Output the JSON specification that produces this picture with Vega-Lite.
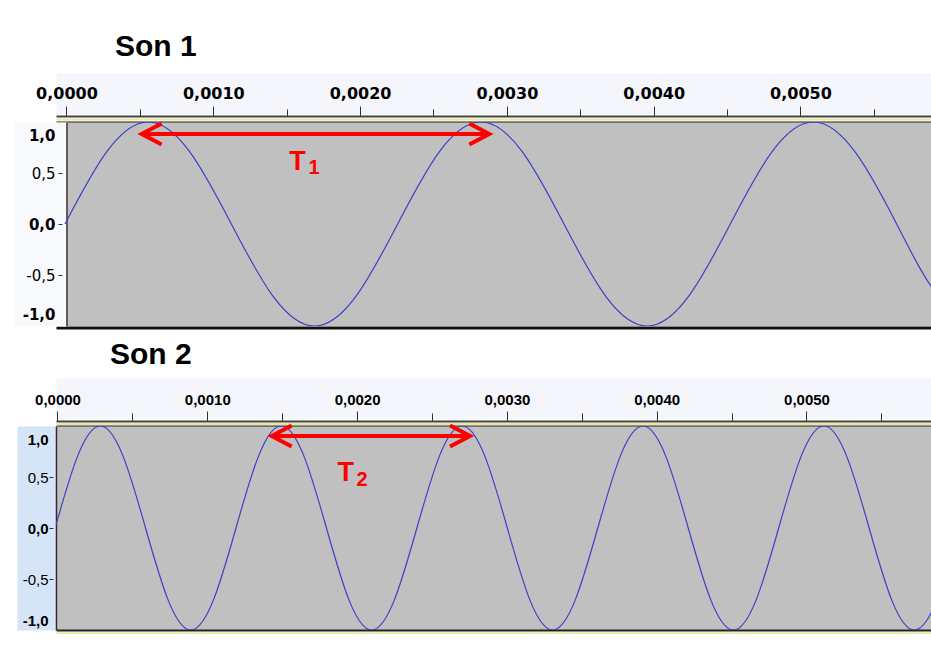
{
  "$schema": "https://vega.github.io/schema/vega-lite/v6.json",
  "background": "white",
  "padding": {"left": 22, "top": 32, "right": 0, "bottom": 0},
  "columns": 1,
  "spacing": 12,
  "resolve": {"scale": {"x": "independent", "y": "independent", "shape": "independent"}},
  "config": {"view": {"fill": "#c0c0c0", "stroke": null}},
  "concat": [
    {
      "width": 875,
      "height": 204,
      "title": {"text": "Son 1", "anchor": "start", "frame": "group", "dx": 59, "offset": -1, "baseline": "alphabetic", "font": "Liberation Sans", "fontSize": 30, "fontWeight": "bold", "color": "#000000"},
      "resolve": {"axis": {"x": "independent", "y": "independent"}},
      "layer": [
        {
          "mark": {"type": "rule", "color": "#000000", "strokeWidth": 1, "clip": true},
          "encoding": {
            "x": {"datum": 0, "type": "quantitative", "scale": {"domain": [-0.0000715, 0.005889], "nice": false, "zero": false},
              "axis": {"orient": "top", "offset": 28.5, "domainColor": "#f4f6fb", "domainWidth": 41, "ticks": false, "labels": false, "title": null, "grid": false}},
            "x2": {"datum": 0.0059},
            "y": {"datum": 0, "type": "quantitative", "scale": {"domain": [-1, 1], "nice": false},
              "axis": {"orient": "left", "offset": 15.5, "domainColor": "#f8f9fd", "domainWidth": 53, "ticks": false, "labels": false, "title": null, "grid": false}}
          }
        },
        {
          "data": {"values": [
            {"t": -0.00001, "v": 0}, {"t": 0.00027325, "v": 0.707}, {"t": 0.0005565, "v": 1}, {"t": 0.00083975, "v": 0.707},
            {"t": 0.001123, "v": 0}, {"t": 0.00140625, "v": -0.707}, {"t": 0.0016895, "v": -1}, {"t": 0.00197275, "v": -0.707},
            {"t": 0.002256, "v": 0}, {"t": 0.00253925, "v": 0.707}, {"t": 0.0028225, "v": 1}, {"t": 0.00310575, "v": 0.707},
            {"t": 0.003389, "v": 0}, {"t": 0.00367225, "v": -0.707}, {"t": 0.0039555, "v": -1}, {"t": 0.00423875, "v": -0.707},
            {"t": 0.004522, "v": 0}, {"t": 0.00480525, "v": 0.707}, {"t": 0.0050885, "v": 1}, {"t": 0.00537175, "v": 0.707},
            {"t": 0.005655, "v": 0}, {"t": 0.00593825, "v": -0.707}, {"t": 0.0062215, "v": -1}
          ]},
          "mark": {"type": "line", "interpolate": "natural", "color": "#3f3fc9", "strokeWidth": 1.2, "clip": true},
          "encoding": {
            "x": {"field": "t", "type": "quantitative", "scale": {"domain": [-0.0000715, 0.005889], "nice": false, "zero": false},
              "axis": {"orient": "top", "offset": 6, "values": [0, 0.0005, 0.001, 0.0015, 0.002, 0.0025, 0.003, 0.0035, 0.004, 0.0045, 0.005, 0.0055],
                "domainColor": "#444444", "domainWidth": 2, "tickColor": "#333333", "tickWidth": 1,
                "tickSize": {"condition": {"test": "round(datum.value*2000) % 2 == 0", "value": 10}, "value": 7},
                "labelPadding": 5,
                "labelExpr": "round(datum.value*2000) % 2 == 0 ? replace(format(datum.value, '.4f'), '.', ',') : ''",
                "labelFont": "DejaVu Sans", "labelFontSize": 16, "labelFontWeight": "bold", "labelColor": "#000000",
                "labelFlush": false, "labelOverlap": false, "title": null, "grid": false}},
            "y": {"field": "v", "type": "quantitative", "scale": {"domain": [-1, 1], "nice": false},
              "axis": {"orient": "left", "offset": -6, "values": [-1, -0.5, 0, 0.5, 1], "domain": false,
                "tickColor": "#333333",
                "tickSize": {"condition": {"test": "abs(datum.value) == 1", "value": 0}, "value": 4},
                "labelPadding": {"condition": {"test": "abs(datum.value) == 1", "value": 7}, "value": 3},
                "labelOffset": {"condition": [{"test": "datum.value == 1", "value": 13}, {"test": "datum.value == -1", "value": -12}], "value": 0},
                "labelExpr": "datum.value > 0.75 ? '1,0' : datum.value > 0.25 ? '0,5' : datum.value > -0.25 ? '0,0' : datum.value > -0.75 ? '-0,5' : '-1,0'",
                "labelFont": "DejaVu Sans", "labelFontSize": 15, "labelColor": "#000000",
                "labelFontWeight": {"condition": {"test": "abs(datum.value) == 0.5", "value": "normal"}, "value": "bold"},
                "labelFlush": false, "labelOverlap": false, "title": null, "grid": false}}
          }
        },
        {
          "data": {"values": [{"t": 0.000512, "t2": 0.00288, "v": 0.883}]},
          "mark": {"type": "rule", "color": "#ff0000", "strokeWidth": 4},
          "encoding": {
            "x": {"field": "t", "type": "quantitative", "scale": {"domain": [-0.0000715, 0.005889], "nice": false, "zero": false},
              "axis": {"orient": "top", "offset": 3, "domainColor": "#ece89c", "domainWidth": 2, "ticks": false, "labels": false, "title": null, "grid": false}},
            "x2": {"field": "t2"},
            "y": {"field": "v", "type": "quantitative", "scale": {"domain": [-1, 1], "nice": false},
              "axis": {"orient": "left", "offset": -10.5, "domainColor": "#3a2a2a", "domainWidth": 1.5, "ticks": false, "labels": false, "title": null, "grid": false}}
          }
        },
        {
          "data": {"values": [{"t": 0.000512, "v": 0.883, "side": "L"}, {"t": 0.00288, "v": 0.883, "side": "R"}]},
          "mark": {"type": "point", "filled": false, "color": "#ff0000", "strokeWidth": 4, "size": 400, "opacity": 1},
          "encoding": {
            "x": {"field": "t", "type": "quantitative", "scale": {"domain": [-0.0000715, 0.005889], "nice": false, "zero": false},
              "axis": {"orient": "bottom", "offset": 1.5, "domainColor": "#111111", "domainWidth": 3, "ticks": false, "labels": false, "title": null, "grid": false}},
            "y": {"field": "v", "type": "quantitative", "scale": {"domain": [-1, 1], "nice": false}, "axis": null},
            "shape": {"field": "side", "type": "nominal", "scale": {"domain": ["L", "R"], "range": ["M2,-1.05L0,0L2,1.05", "M-2,-1.05L0,0L-2,1.05"]}, "legend": null}
          }
        },
        {
          "data": {"values": [{"t": 0.0015736, "v": 0.532, "label": "T"}]},
          "mark": {"type": "text", "color": "#ff0000", "font": "Liberation Sans", "fontSize": 27, "fontWeight": "bold", "align": "center", "baseline": "alphabetic"},
          "encoding": {
            "x": {"field": "t", "type": "quantitative", "scale": {"domain": [-0.0000715, 0.005889], "nice": false, "zero": false}, "axis": null},
            "y": {"field": "v", "type": "quantitative", "scale": {"domain": [-1, 1], "nice": false}, "axis": null},
            "text": {"field": "label"}
          }
        },
        {
          "data": {"values": [{"t": 0.001686, "v": 0.486, "label": "1"}]},
          "mark": {"type": "text", "color": "#ff0000", "font": "Liberation Sans", "fontSize": 20, "fontWeight": "bold", "align": "center", "baseline": "alphabetic"},
          "encoding": {
            "x": {"field": "t", "type": "quantitative", "scale": {"domain": [-0.0000715, 0.005889], "nice": false, "zero": false},
              "axis": {"orient": "top", "offset": 0.5, "domainColor": "#222222", "domainWidth": 1, "ticks": false, "labels": false, "title": null, "grid": false}},
            "y": {"field": "v", "type": "quantitative", "scale": {"domain": [-1, 1], "nice": false}, "axis": null},
            "text": {"field": "label"}
          }
        }
      ]
    },
    {
      "width": 875,
      "height": 204,
      "title": {"text": "Son 2", "anchor": "start", "frame": "group", "dx": 54, "offset": -2, "baseline": "alphabetic", "font": "Liberation Sans", "fontSize": 30, "fontWeight": "bold", "color": "#000000"},
      "resolve": {"axis": {"x": "independent", "y": "independent"}},
      "layer": [
        {
          "mark": {"type": "rule", "color": "#000000", "strokeWidth": 1, "clip": true},
          "encoding": {
            "x": {"datum": -0.00001, "type": "quantitative", "scale": {"domain": [-0.00001, 0.0058312], "nice": false, "zero": false},
              "axis": {"orient": "top", "offset": 27.5, "domainColor": "#f4f6fb", "domainWidth": 41, "ticks": false, "labels": false, "title": null, "grid": false}},
            "x2": {"datum": 0.0059},
            "y": {"datum": 0, "type": "quantitative", "scale": {"domain": [-1, 1], "nice": false},
              "axis": {"orient": "left", "offset": 19.5, "domainColor": "#d6e4f8", "domainWidth": 39, "ticks": false, "labels": false, "title": null, "grid": false}}
          }
        },
        {
          "data": {"values": [
            {"t": -0.000016, "v": 0}, {"t": 0.00013495, "v": 0.707}, {"t": 0.0002859, "v": 1}, {"t": 0.00043685, "v": 0.707},
            {"t": 0.0005878, "v": 0}, {"t": 0.00073875, "v": -0.707}, {"t": 0.0008897, "v": -1}, {"t": 0.00104065, "v": -0.707},
            {"t": 0.0011916, "v": 0}, {"t": 0.00134255, "v": 0.707}, {"t": 0.0014935, "v": 1}, {"t": 0.00164445, "v": 0.707},
            {"t": 0.0017954, "v": 0}, {"t": 0.00194635, "v": -0.707}, {"t": 0.0020973, "v": -1}, {"t": 0.00224825, "v": -0.707},
            {"t": 0.0023992, "v": 0}, {"t": 0.00255015, "v": 0.707}, {"t": 0.0027011, "v": 1}, {"t": 0.00285205, "v": 0.707},
            {"t": 0.003003, "v": 0}, {"t": 0.00315395, "v": -0.707}, {"t": 0.0033049, "v": -1}, {"t": 0.00345585, "v": -0.707},
            {"t": 0.0036068, "v": 0}, {"t": 0.00375775, "v": 0.707}, {"t": 0.0039087, "v": 1}, {"t": 0.00405965, "v": 0.707},
            {"t": 0.0042106, "v": 0}, {"t": 0.00436155, "v": -0.707}, {"t": 0.0045125, "v": -1}, {"t": 0.00466345, "v": -0.707},
            {"t": 0.0048144, "v": 0}, {"t": 0.00496535, "v": 0.707}, {"t": 0.0051163, "v": 1}, {"t": 0.00526725, "v": 0.707},
            {"t": 0.0054182, "v": 0}, {"t": 0.00556915, "v": -0.707}, {"t": 0.0057201, "v": -1}, {"t": 0.00587105, "v": -0.707},
            {"t": 0.006022, "v": 0}
          ]},
          "mark": {"type": "line", "interpolate": "natural", "color": "#3f3fc9", "strokeWidth": 1.2, "clip": true},
          "encoding": {
            "x": {"field": "t", "type": "quantitative", "scale": {"domain": [-0.00001, 0.0058312], "nice": false, "zero": false},
              "axis": {"orient": "top", "offset": 5, "values": [0, 0.0005, 0.001, 0.0015, 0.002, 0.0025, 0.003, 0.0035, 0.004, 0.0045, 0.005, 0.0055],
                "domainColor": "#444444", "domainWidth": 2, "tickColor": "#333333", "tickWidth": 1,
                "tickSize": {"condition": {"test": "round(datum.value*2000) % 2 == 0", "value": 10}, "value": 8},
                "labelPadding": 4,
                "labelExpr": "round(datum.value*2000) % 2 == 0 ? replace(format(datum.value, '.4f'), '.', ',') : ''",
                "labelFont": "Liberation Sans", "labelFontSize": 15, "labelFontWeight": "bold", "labelColor": "#000000",
                "labelFlush": false, "labelOverlap": false, "title": null, "grid": false}},
            "y": {"field": "v", "type": "quantitative", "scale": {"domain": [-1, 1], "nice": false},
              "axis": {"orient": "left", "offset": 3, "values": [-1, -0.5, 0, 0.5, 1], "domain": false,
                "tickColor": "#333333",
                "tickSize": {"condition": {"test": "abs(datum.value) == 1", "value": 0}, "value": 4},
                "labelPadding": {"condition": {"test": "abs(datum.value) == 1", "value": 5}, "value": 1},
                "labelOffset": {"condition": [{"test": "datum.value == 1", "value": 13}, {"test": "datum.value == -1", "value": -10}], "value": 0},
                "labelExpr": "datum.value > 0.75 ? '1,0' : datum.value > 0.25 ? '0,5' : datum.value > -0.25 ? '0,0' : datum.value > -0.75 ? '-0,5' : '-1,0'",
                "labelFont": "Liberation Sans", "labelFontSize": 15, "labelColor": "#000000",
                "labelFontWeight": {"condition": {"test": "abs(datum.value) == 0.5", "value": "normal"}, "value": "bold"},
                "labelFlush": false, "labelOverlap": false, "title": null, "grid": false}}
          }
        },
        {
          "data": {"values": [{"t": 0.00143, "t2": 0.002754, "v": 0.902}]},
          "mark": {"type": "rule", "color": "#ff0000", "strokeWidth": 4},
          "encoding": {
            "x": {"field": "t", "type": "quantitative", "scale": {"domain": [-0.00001, 0.0058312], "nice": false, "zero": false},
              "axis": {"orient": "top", "offset": 2.5, "domainColor": "#ece89c", "domainWidth": 2, "ticks": false, "labels": false, "title": null, "grid": false}},
            "x2": {"field": "t2"},
            "y": {"field": "v", "type": "quantitative", "scale": {"domain": [-1, 1], "nice": false},
              "axis": {"orient": "left", "offset": 0, "domainColor": "#3a2a2a", "domainWidth": 1.5, "ticks": false, "labels": false, "title": null, "grid": false}}
          }
        },
        {
          "data": {"values": [{"t": 0.00143, "v": 0.902, "side": "L"}, {"t": 0.002754, "v": 0.902, "side": "R"}]},
          "mark": {"type": "point", "filled": false, "color": "#ff0000", "strokeWidth": 4, "size": 400, "opacity": 1},
          "encoding": {
            "x": {"field": "t", "type": "quantitative", "scale": {"domain": [-0.00001, 0.0058312], "nice": false, "zero": false},
              "axis": {"orient": "bottom", "offset": 0, "domainColor": "#222222", "domainWidth": 2, "ticks": false, "labels": false, "title": null, "grid": false}},
            "y": {"field": "v", "type": "quantitative", "scale": {"domain": [-1, 1], "nice": false}, "axis": null},
            "shape": {"field": "side", "type": "nominal", "scale": {"domain": ["L", "R"], "range": ["M2,-1.05L0,0L2,1.05", "M-2,-1.05L0,0L-2,1.05"]}, "legend": null}
          }
        },
        {
          "data": {"values": [{"t": 0.0019246, "v": 0.461, "label": "T"}]},
          "mark": {"type": "text", "color": "#ff0000", "font": "Liberation Sans", "fontSize": 27, "fontWeight": "bold", "align": "center", "baseline": "alphabetic"},
          "encoding": {
            "x": {"field": "t", "type": "quantitative", "scale": {"domain": [-0.00001, 0.0058312], "nice": false, "zero": false},
              "axis": {"orient": "bottom", "offset": 3.5, "domainColor": "#ece89c", "domainWidth": 3.5, "ticks": false, "labels": false, "title": null, "grid": false}},
            "y": {"field": "v", "type": "quantitative", "scale": {"domain": [-1, 1], "nice": false}, "axis": null},
            "text": {"field": "label"}
          }
        },
        {
          "data": {"values": [{"t": 0.002034, "v": 0.412, "label": "2"}]},
          "mark": {"type": "text", "color": "#ff0000", "font": "Liberation Sans", "fontSize": 20, "fontWeight": "bold", "align": "center", "baseline": "alphabetic"},
          "encoding": {
            "x": {"field": "t", "type": "quantitative", "scale": {"domain": [-0.00001, 0.0058312], "nice": false, "zero": false},
              "axis": {"orient": "top", "offset": 0.5, "domainColor": "#222222", "domainWidth": 1, "ticks": false, "labels": false, "title": null, "grid": false}},
            "y": {"field": "v", "type": "quantitative", "scale": {"domain": [-1, 1], "nice": false}, "axis": null},
            "text": {"field": "label"}
          }
        }
      ]
    }
  ]
}
